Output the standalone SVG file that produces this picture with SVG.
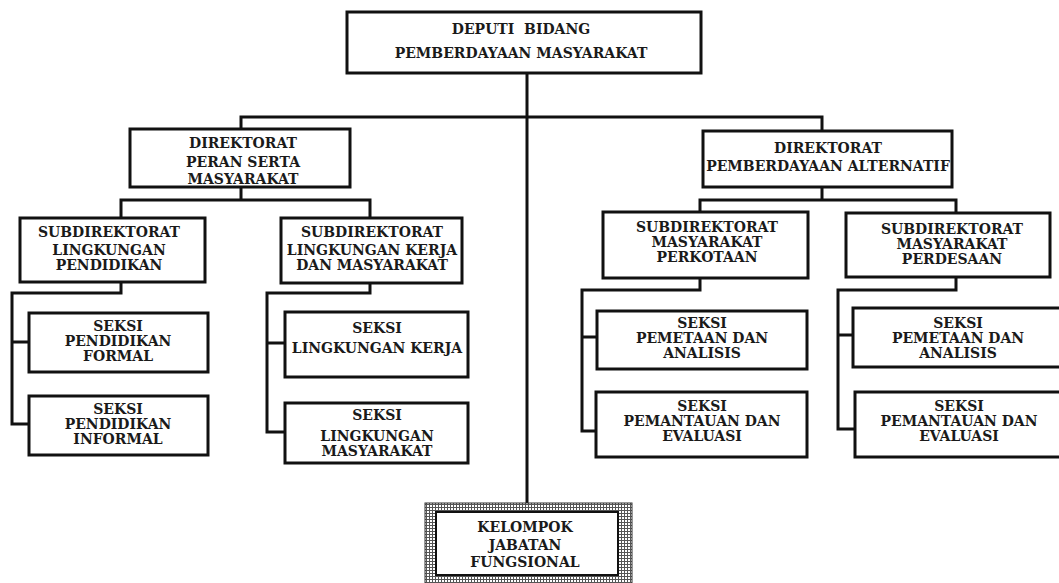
<svg xmlns="http://www.w3.org/2000/svg" width="1059" height="583" viewBox="0 0 1059 583">
<style>
.box{fill:#fff;stroke:#111;stroke-width:3}
.ln{fill:none;stroke:#111;stroke-width:3;stroke-linecap:square}
text{font-family:"DejaVu Serif","Liberation Serif",serif;font-weight:bold;font-size:14px;fill:#1a1a1a;text-anchor:middle}
</style>
<defs>
<pattern id="grid" width="3" height="3" patternUnits="userSpaceOnUse">
<rect width="3" height="3" fill="#fff"/>
<path d="M0 0.5H3M0.5 0V3" stroke="#555" stroke-width="1"/>
</pattern>
</defs>
<rect width="1059" height="583" fill="#fff"/>
<g id="connectors">
<path class="ln" d="M527 73V503"/>
<path class="ln" d="M241 129V117H822V131"/>
<path class="ln" d="M241 187V200M121 218V200H370V218"/>
<path class="ln" d="M121 282V293H12V424H29M12 342H29"/>
<path class="ln" d="M370 283V293H267V432H285M267 343H285"/>
<path class="ln" d="M822 187V200M700 212V200H956V213"/>
<path class="ln" d="M700 278V290H582V431H596M582 337H597"/>
<path class="ln" d="M956 277V290H838V429H855M838 335H853"/>
</g>
<g id="deputi">
<rect class="box" x="347" y="12" width="354" height="61"/>
<text x="521" y="34" xml:space="preserve">DEPUTI  BIDANG</text>
<text x="521" y="58">PEMBERDAYAAN MASYARAKAT</text>
</g>
<g id="dir-psm">
<rect class="box" x="130" y="129" width="220" height="58"/>
<text x="243" y="148">DIREKTORAT</text>
<text x="243" y="167">PERAN SERTA</text>
<text x="243" y="184">MASYARAKAT</text>
</g>
<g id="dir-pa">
<rect class="box" x="703" y="131" width="249" height="56"/>
<text x="828" y="153">DIREKTORAT</text>
<text x="828" y="171">PEMBERDAYAAN ALTERNATIF</text>
</g>
<g id="sub-lp">
<rect class="box" x="20" y="218" width="185" height="64"/>
<text x="109" y="237">SUBDIREKTORAT</text>
<text x="109" y="255">LINGKUNGAN</text>
<text x="109" y="270">PENDIDIKAN</text>
</g>
<g id="sub-lkm">
<rect class="box" x="281" y="218" width="181" height="65"/>
<text x="372" y="237">SUBDIREKTORAT</text>
<text x="372" y="255">LINGKUNGAN KERJA</text>
<text x="372" y="270">DAN MASYARAKAT</text>
</g>
<g id="sub-mk">
<rect class="box" x="603" y="212" width="205" height="66"/>
<text x="707" y="232">SUBDIREKTORAT</text>
<text x="707" y="247">MASYARAKAT</text>
<text x="707" y="262">PERKOTAAN</text>
</g>
<g id="sub-md">
<rect class="box" x="846" y="213" width="204" height="64"/>
<text x="952" y="234">SUBDIREKTORAT</text>
<text x="952" y="249">MASYARAKAT</text>
<text x="952" y="264">PERDESAAN</text>
</g>
<g id="seksi-pf">
<rect class="box" x="29" y="313" width="179" height="59"/>
<text x="118" y="331">SEKSI</text>
<text x="118" y="346">PENDIDIKAN</text>
<text x="118" y="361">FORMAL</text>
</g>
<g id="seksi-pi">
<rect class="box" x="29" y="396" width="179" height="59"/>
<text x="118" y="414">SEKSI</text>
<text x="118" y="429">PENDIDIKAN</text>
<text x="118" y="444">INFORMAL</text>
</g>
<g id="seksi-lk">
<rect class="box" x="285" y="312" width="183" height="65"/>
<text x="377" y="333">SEKSI</text>
<text x="377" y="353">LINGKUNGAN KERJA</text>
</g>
<g id="seksi-lm">
<rect class="box" x="285" y="403" width="183" height="60"/>
<text x="377" y="420">SEKSI</text>
<text x="377" y="441">LINGKUNGAN</text>
<text x="377" y="456">MASYARAKAT</text>
</g>
<g id="seksi-pa1">
<rect class="box" x="597" y="311" width="210" height="58"/>
<text x="702" y="328">SEKSI</text>
<text x="702" y="343">PEMETAAN DAN</text>
<text x="702" y="358">ANALISIS</text>
</g>
<g id="seksi-pe1">
<rect class="box" x="596" y="392" width="211" height="65"/>
<text x="702" y="411">SEKSI</text>
<text x="702" y="426">PEMANTAUAN DAN</text>
<text x="702" y="441">EVALUASI</text>
</g>
<g id="seksi-pa2">
<rect class="box" x="853" y="308" width="210" height="59"/>
<text x="958" y="328">SEKSI</text>
<text x="958" y="343">PEMETAAN DAN</text>
<text x="958" y="358">ANALISIS</text>
</g>
<g id="seksi-pe2">
<rect class="box" x="855" y="392" width="210" height="65"/>
<text x="959" y="411">SEKSI</text>
<text x="959" y="426">PEMANTAUAN DAN</text>
<text x="959" y="441">EVALUASI</text>
</g>
<g id="kelompok">
<rect x="425" y="503" width="207" height="84" fill="url(#grid)" stroke="#333" stroke-width="1"/>
<rect x="436" y="512" width="182" height="63" fill="#fff" stroke="#111" stroke-width="2"/>
<text x="525" y="532">KELOMPOK</text>
<text x="525" y="550">JABATAN</text>
<text x="525" y="567">FUNGSIONAL</text>
</g>
</svg>
